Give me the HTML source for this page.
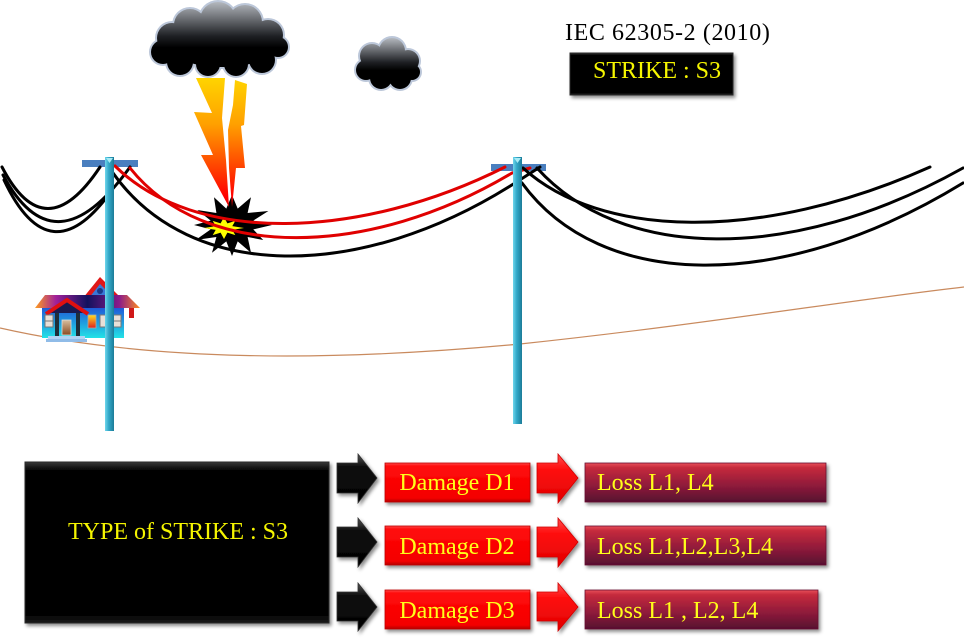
<!DOCTYPE html>
<html>
<head>
<meta charset="utf-8">
<style>
  html,body{margin:0;padding:0;background:#fff;}
  body{width:964px;height:640px;overflow:hidden;}
  svg{display:block;}
  text{font-family:"Liberation Serif",serif;}
</style>
</head>
<body>
<svg width="964" height="640" viewBox="0 0 964 640" xmlns="http://www.w3.org/2000/svg">
<defs>
  <linearGradient id="cloudG" gradientUnits="userSpaceOnUse" x1="0" y1="2" x2="0" y2="78">
    <stop offset="0" stop-color="#b4b8be"/>
    <stop offset="0.45" stop-color="#1e2024"/>
    <stop offset="0.6" stop-color="#000"/>
    <stop offset="1" stop-color="#000"/>
  </linearGradient>
  <linearGradient id="cloud2G" gradientUnits="userSpaceOnUse" x1="0" y1="38" x2="0" y2="92">
    <stop offset="0" stop-color="#b4b8be"/>
    <stop offset="0.45" stop-color="#1e2024"/>
    <stop offset="0.6" stop-color="#000"/>
    <stop offset="1" stop-color="#000"/>
  </linearGradient>
  <linearGradient id="boltG" gradientUnits="userSpaceOnUse" x1="0" y1="78" x2="0" y2="210">
    <stop offset="0" stop-color="#ffd400"/>
    <stop offset="0.35" stop-color="#ffa000"/>
    <stop offset="0.65" stop-color="#ff4a00"/>
    <stop offset="0.9" stop-color="#ff0000"/>
    <stop offset="1" stop-color="#d80000"/>
  </linearGradient>
  <linearGradient id="poleG" x1="0" y1="0" x2="1" y2="0">
    <stop offset="0" stop-color="#6fd6ec"/>
    <stop offset="0.4" stop-color="#33a9c9"/>
    <stop offset="1" stop-color="#1c7c98"/>
  </linearGradient>
  <linearGradient id="roofG" x1="0" y1="0" x2="1" y2="0">
    <stop offset="0" stop-color="#ff9c20"/>
    <stop offset="0.2" stop-color="#a0209a"/>
    <stop offset="0.5" stop-color="#12125e"/>
    <stop offset="0.8" stop-color="#8a1a8a"/>
    <stop offset="1" stop-color="#ff8c20"/>
  </linearGradient>
  <linearGradient id="bodyG" x1="0" y1="0" x2="0" y2="1">
    <stop offset="0" stop-color="#1f5ad8"/>
    <stop offset="1" stop-color="#22e2e6"/>
  </linearGradient>
  <linearGradient id="winG" x1="0" y1="0" x2="0" y2="1">
    <stop offset="0" stop-color="#ffe020"/>
    <stop offset="1" stop-color="#e02020"/>
  </linearGradient>
  <linearGradient id="doorG" x1="0" y1="0" x2="0" y2="1">
    <stop offset="0" stop-color="#d8c0a0"/>
    <stop offset="1" stop-color="#8a4a20"/>
  </linearGradient>
  <linearGradient id="dmgG" x1="0" y1="0" x2="0" y2="1">
    <stop offset="0" stop-color="#ff4a4a"/>
    <stop offset="0.08" stop-color="#ff0a0a"/>
    <stop offset="0.9" stop-color="#f40000"/>
    <stop offset="1" stop-color="#b40000"/>
  </linearGradient>
  <linearGradient id="lossG" x1="0" y1="0" x2="0" y2="1">
    <stop offset="0" stop-color="#e8505a"/>
    <stop offset="0.12" stop-color="#c62a3c"/>
    <stop offset="0.6" stop-color="#8c1a3a"/>
    <stop offset="1" stop-color="#561030"/>
  </linearGradient>
  <linearGradient id="blkG" x1="0" y1="0" x2="0" y2="1">
    <stop offset="0" stop-color="#3a3a3a"/>
    <stop offset="0.05" stop-color="#060606"/>
    <stop offset="0.95" stop-color="#040404"/>
    <stop offset="1" stop-color="#1a1a1a"/>
  </linearGradient>
  <linearGradient id="arBlk" x1="0" y1="0" x2="0" y2="1">
    <stop offset="0" stop-color="#555"/>
    <stop offset="0.25" stop-color="#111"/>
    <stop offset="1" stop-color="#000"/>
  </linearGradient>
  <linearGradient id="arRed" x1="0" y1="0" x2="0" y2="1">
    <stop offset="0" stop-color="#ff5050"/>
    <stop offset="0.3" stop-color="#ff1010"/>
    <stop offset="1" stop-color="#e00000"/>
  </linearGradient>
  <filter id="sh" x="-10%" y="-10%" width="130%" height="140%">
    <feDropShadow dx="2" dy="2.5" stdDeviation="1.8" flood-color="#000" flood-opacity="0.45"/>
  </filter>
</defs>

<!-- ground line -->
<path d="M0,328 C150,362 330,362 520,344 C700,325 850,300 964,287" fill="none" stroke="#c98a5e" stroke-width="1.2"/>

<!-- house -->
<g>
  <polygon points="83,298 100,277 121,298" fill="#e01818"/>
  <polygon points="89,298 100,284 114,298" fill="#3a78d8"/>
  <circle cx="100" cy="291" r="3" fill="#1a3a8a"/>
  <rect x="129" y="306" width="5" height="12" fill="#d01818"/>
  <polygon points="35,308 45,295 127,295 140,308" fill="url(#roofG)"/>
  <rect x="42" y="308" width="82" height="30" fill="url(#bodyG)"/>
  <polygon points="50,313 67,302 84,313" fill="#1a1a50"/>
  <polyline points="46,314 67,300 88,314" fill="none" stroke="#e01010" stroke-width="4"/>
  <rect x="55" y="313" width="4" height="23" fill="#1e2e3a"/>
  <rect x="76" y="313" width="4" height="23" fill="#1e2e3a"/>
  <rect x="62" y="320" width="9" height="15" fill="url(#doorG)" stroke="#ddd" stroke-width="0.8"/>
  <rect x="45" y="315" width="8" height="12" fill="#e8e0d8" stroke="#777" stroke-width="1"/>
  <line x1="45" y1="321" x2="53" y2="321" stroke="#777" stroke-width="1"/>
  <rect x="88" y="315" width="8" height="13" fill="url(#winG)" stroke="#aaa" stroke-width="0.8"/>
  <rect x="100" y="315" width="8" height="12" fill="#e8e0d8" stroke="#777" stroke-width="1"/>
  <rect x="113" y="315" width="8" height="12" fill="#e8e0d8" stroke="#777" stroke-width="1"/>
  <line x1="113" y1="321" x2="121" y2="321" stroke="#777" stroke-width="1"/>
  <rect x="48" y="336" width="37" height="3" fill="#b0d4f4"/>
  <rect x="46" y="339" width="41" height="3" fill="#90bce8"/>
</g>

<!-- crossarms -->
<rect x="82" y="160" width="56" height="7" fill="#4a7fbf"/>
<rect x="491" y="164" width="55" height="7" fill="#4a7fbf"/>

<!-- explosion -->
<polygon fill="#000" points="272,225 253.3,229.4 263.2,240 247.6,237 251,252.7 237.7,241.4 232,256 226.3,241.4 212,252.7 216.4,237 195.6,240 210.7,229.4 194,225 210.7,220.6 197.4,210 216.4,213 214,197.3 226.3,208.6 232,195 237.7,208.6 251,197.3 247.6,213 268.4,211 253.3,220.6"/>
<polygon fill="#ffff00" points="244,228 232.3,229.9 235.3,235.1 227.4,232.6 224,239 220.6,232.6 212.7,235.1 215.7,229.9 204,228 215.7,226.1 212.7,220.9 220.6,223.4 224,217 227.4,223.4 235.3,220.9 232.3,226.1"/>

<!-- lightning -->
<polygon fill="url(#boltG)" points="196,78 225,78 222,118 226,160 229,207 201,155 213,155 194,112 212,113"/>
<polygon fill="url(#boltG)" points="235,80 247,84 244,125 241,126 245,168 236,168 232,207 229,168 228,130 233,105"/>

<!-- wires -->
<g fill="none" stroke-width="3" stroke-linecap="round">
  <path d="M2,167 Q45,250 100,167" stroke="#000"/>
  <path d="M3,175 Q55,272 130,167" stroke="#000"/>
  <path d="M4,180 Q50,278 112,190" stroke="#000"/>
  <path d="M113,173 C190,282 360,282 515,183 L540,167" stroke="#000"/>
  <path d="M115,166 C195,245 360,240 505,167" stroke="#e00000"/>
  <path d="M130,168 C205,262 370,258 512,173 L530,168" stroke="#e00000"/>
  <path d="M523,168 C600,238 760,243 930,167" stroke="#000"/>
  <path d="M537,168 C620,260 790,265 963,168" stroke="#000"/>
  <path d="M522,183 C600,290 780,295 963,183" stroke="#000"/>
</g>

<!-- poles -->
<rect x="105" y="157" width="9" height="274" fill="url(#poleG)"/>
<polygon points="106,158 113,158 109.5,163" fill="#a8ecf6"/>
<rect x="513" y="157" width="9" height="267" fill="url(#poleG)"/>
<polygon points="514,158 521,158 517.5,163" fill="#a8ecf6"/>

<!-- big cloud -->
<g fill="#bcc7d9">
  <circle cx="218" cy="20" r="20"/><circle cx="190" cy="25" r="18"/><circle cx="245" cy="22" r="19"/>
  <circle cx="268" cy="35" r="17"/><circle cx="172" cy="38" r="17"/><circle cx="163" cy="52" r="14"/>
  <circle cx="180" cy="62" r="15"/><circle cx="208" cy="64" r="14"/><circle cx="236" cy="64" r="14"/>
  <circle cx="262" cy="60" r="15"/><circle cx="278" cy="47" r="12"/>
  <ellipse cx="222" cy="45" rx="57" ry="24"/>
</g>
<g fill="url(#cloudG)">
  <circle cx="218" cy="20" r="18"/><circle cx="190" cy="25" r="16"/><circle cx="245" cy="22" r="17"/>
  <circle cx="268" cy="35" r="15"/><circle cx="172" cy="38" r="15"/><circle cx="163" cy="52" r="12"/>
  <circle cx="180" cy="62" r="13"/><circle cx="208" cy="64" r="12"/><circle cx="236" cy="64" r="12"/>
  <circle cx="262" cy="60" r="13"/><circle cx="278" cy="47" r="10"/>
  <ellipse cx="222" cy="45" rx="55" ry="22"/>
</g>

<!-- small cloud -->
<g fill="#bcc7d9">
  <circle cx="372" cy="56" r="14"/><circle cx="392" cy="51" r="15"/><circle cx="408" cy="61" r="13"/>
  <circle cx="366" cy="70" r="12"/><circle cx="381" cy="78" r="13"/><circle cx="400" cy="78" r="13"/>
  <circle cx="412" cy="72" r="10"/><ellipse cx="388" cy="66" rx="30" ry="18"/>
</g>
<g fill="url(#cloud2G)">
  <circle cx="372" cy="56" r="12"/><circle cx="392" cy="51" r="13"/><circle cx="408" cy="61" r="11"/>
  <circle cx="366" cy="70" r="10"/><circle cx="381" cy="78" r="11"/><circle cx="400" cy="78" r="11"/>
  <circle cx="412" cy="72" r="8"/><ellipse cx="388" cy="66" rx="28" ry="16"/>
</g>

<!-- top label -->
<text x="565" y="40" font-size="24" fill="#000" letter-spacing="0.6">IEC 62305-2 (2010)</text>
<rect x="570" y="53" width="163" height="42" fill="url(#blkG)" stroke="#2a2a2a" stroke-width="1" filter="url(#sh)"/>
<text x="657" y="78" font-size="24" fill="#f5f500" text-anchor="middle">STRIKE : S3</text>

<!-- type of strike box -->
<rect x="25" y="462" width="304" height="161" fill="url(#blkG)" stroke="#2a2a2a" stroke-width="1" filter="url(#sh)"/>
<text x="178" y="539" font-size="24" fill="#f5f500" text-anchor="middle">TYPE of STRIKE : S3</text>

<!-- rows -->
<g>
  <!-- row 1 -->
  <polygon fill="url(#arBlk)" stroke="#333" stroke-width="0.8" points="337,463 358,463 358,454 377,478 358,503 358,493 337,493" filter="url(#sh)"/>
  <rect x="385" y="463" width="145" height="39" fill="url(#dmgG)" stroke="#c00000" stroke-width="0.8" filter="url(#sh)"/>
  <polygon fill="url(#arRed)" stroke="#d00000" stroke-width="0.8" points="537,463 558,463 558,454 578,478 558,503 558,493 537,493" filter="url(#sh)"/>
  <rect x="585" y="463" width="241" height="39" fill="url(#lossG)" stroke="#6a1030" stroke-width="0.8" filter="url(#sh)"/>
  <text x="457" y="490" font-size="24" fill="#ffff1a" text-anchor="middle">Damage D1</text>
  <text x="597" y="490" font-size="24" fill="#ffff1a">Loss L1, L4</text>

  <!-- row 2 -->
  <polygon fill="url(#arBlk)" stroke="#333" stroke-width="0.8" points="337,527 358,527 358,518 377,542 358,567 358,557 337,557" filter="url(#sh)"/>
  <rect x="385" y="526" width="145" height="39" fill="url(#dmgG)" stroke="#c00000" stroke-width="0.8" filter="url(#sh)"/>
  <polygon fill="url(#arRed)" stroke="#d00000" stroke-width="0.8" points="537,527 558,527 558,518 578,542 558,567 558,557 537,557" filter="url(#sh)"/>
  <rect x="585" y="526" width="241" height="39" fill="url(#lossG)" stroke="#6a1030" stroke-width="0.8" filter="url(#sh)"/>
  <text x="457" y="554" font-size="24" fill="#ffff1a" text-anchor="middle">Damage D2</text>
  <text x="597" y="554" font-size="24" fill="#ffff1a">Loss L1,L2,L3,L4</text>

  <!-- row 3 -->
  <polygon fill="url(#arBlk)" stroke="#333" stroke-width="0.8" points="337,592 358,592 358,583 377,607 358,631 358,621 337,621" filter="url(#sh)"/>
  <rect x="385" y="590" width="145" height="39" fill="url(#dmgG)" stroke="#c00000" stroke-width="0.8" filter="url(#sh)"/>
  <polygon fill="url(#arRed)" stroke="#d00000" stroke-width="0.8" points="537,592 558,592 558,583 578,607 558,631 558,621 537,621" filter="url(#sh)"/>
  <rect x="585" y="590" width="233" height="39" fill="url(#lossG)" stroke="#6a1030" stroke-width="0.8" filter="url(#sh)"/>
  <text x="457" y="618" font-size="24" fill="#ffff1a" text-anchor="middle">Damage D3</text>
  <text x="597" y="618" font-size="24" fill="#ffff1a">Loss L1 , L2, L4</text>
</g>
</svg>
</body>
</html>
